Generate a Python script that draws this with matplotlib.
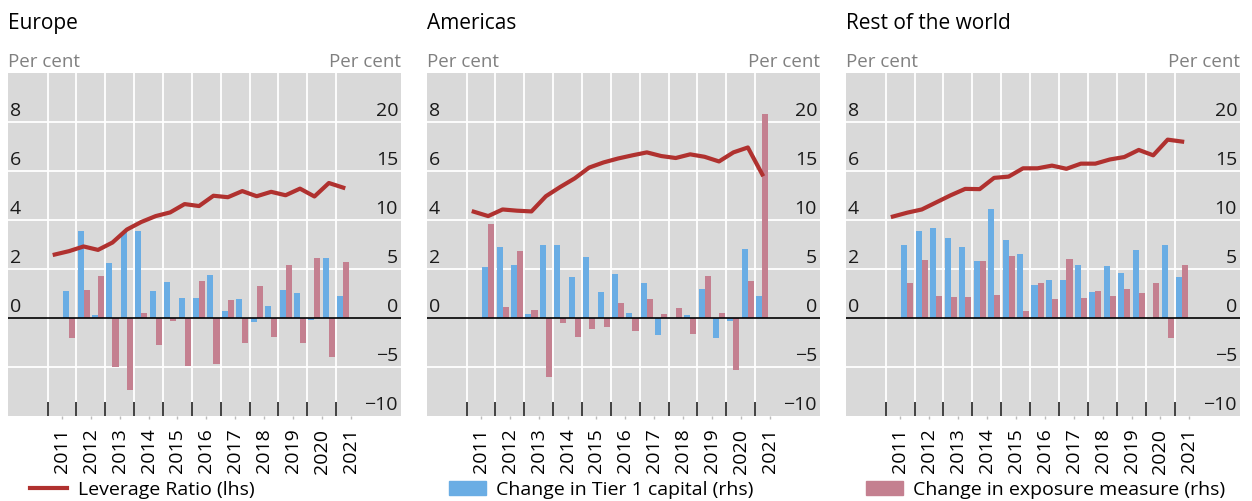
import matplotlib
matplotlib.use('Agg')
import matplotlib.pyplot as plt
import matplotlib.transforms as mtransforms
from matplotlib.lines import Line2D
from matplotlib.patches import Patch

plt.rcParams['font.family'] = ['Open Sans', 'DejaVu Sans']

# ---------------- data ----------------
regions = ['Europe', 'Americas', 'Rest of the world']
years = list(range(2011, 2022))
# half-year periods: leverage ratio 2011H1..2021H1, changes 2011H2..2021H1
line_periods = [f'{y}H{h}' for y in range(2011, 2022) for h in (1, 2)][:-1]
bar_periods = line_periods[1:]

leverage_europe = [2.59, 2.73, 2.92, 2.78, 3.08, 3.61, 3.92, 4.16, 4.31, 4.65, 4.57,
                   4.99, 4.93, 5.18, 4.97, 5.15, 5.01, 5.28, 4.96, 5.51, 5.32]
leverage_americas = [4.34, 4.16, 4.43, 4.38, 4.35, 4.97, 5.35, 5.70, 6.14, 6.35, 6.51,
                     6.64, 6.76, 6.61, 6.53, 6.68, 6.58, 6.39, 6.76, 6.96, 5.86]
leverage_row = [4.14, 4.30, 4.43, 4.72, 5.01, 5.27, 5.26, 5.72, 5.77, 6.11, 6.11,
                6.22, 6.09, 6.30, 6.30, 6.47, 6.57, 6.86, 6.64, 7.28, 7.20]

tier1_europe = [2.74, 8.92, 0.30, 5.57, 8.75, 8.92, 2.74, 3.65, 2.03, 2.03,
                4.36, 0.71, 1.93, -0.41, 1.22, 2.84, 2.53, -0.17, 6.08, 2.23]
exposure_europe = [-1.99, 2.84, 4.26, -5.03, -7.36, 0.51, -2.80, -0.27, -4.93, 3.75,
                   -4.66, 1.82, -2.60, 3.24, -1.89, 5.37, -2.60, 6.08, -4.02, 5.68]

tier1_americas = [5.17, 7.20, 5.37, 0.41, 7.40, 7.50, 4.16, 6.18, 2.64, 4.46,
                  0.51, 3.55, -1.69, 0.0, 0.30, 2.94, -2.09, -0.27, 6.99, 2.23]
exposure_americas = [9.63, 1.11, 6.79, 0.81, -6.05, -0.47, -1.89, -1.08, -0.88, 1.52,
                     -1.28, 1.93, 0.41, 1.01, -1.59, 4.26, 0.51, -5.34, 3.75, 20.78]

tier1_row = [7.50, 8.92, 9.22, 8.21, 7.20, 5.78, 11.15, 7.91, 6.49, 3.34,
             3.85, 3.85, 5.37, 2.64, 5.27, 4.56, 6.89, 0.0, 7.50, 4.16]
exposure_row = [3.55, 5.88, 2.23, 2.13, 2.13, 5.78, 2.33, 6.28, 0.71, 3.55,
                1.93, 5.98, 2.03, 2.74, 2.23, 2.94, 2.53, 3.55, -2.09, 5.37]

leverage = [leverage_europe, leverage_americas, leverage_row]
tier1 = [tier1_europe, tier1_americas, tier1_row]
exposure = [exposure_europe, exposure_americas, exposure_row]

rhs_ticks = [20, 15, 10, 5, 0, -5, -10]
lhs_ticks = [8, 6, 4, 2, 0]

# ---------------- style ----------------
GRAY = '#d9d9d9'
BLUE = '#6aade4'
PINK = '#c48090'
RED = '#b0312f'
TXT_GRAY = '#808080'


def period_pos(p):
    return int(p[:4]) + (0.25 if p.endswith('1') else 0.75)


fig = plt.figure(figsize=(12.52, 5.01), dpi=100)
W, H = 1252, 501
panels = [(8, 401), (427, 820), (846, 1240)]
top_px, bot_px = 73, 416

BW = 0.21

for i, (l, r) in enumerate(panels):
    ax = fig.add_axes([l / W, (H - bot_px) / H, (r - l) / W, (bot_px - top_px) / H])
    ax.set_facecolor(GRAY)
    ax.set_xlim(2009.63, 2023.25)
    ax.set_ylim(-10, 25)
    ax2 = ax.twinx()
    ax2.set_ylim(-4, 10)

    xb = [period_pos(p) for p in bar_periods]
    xl = [period_pos(p) for p in line_periods]

    ax.bar([x - BW / 2 for x in xb], tier1[i], BW, color=BLUE, zorder=2)
    ax.bar([x + BW / 2 for x in xb], exposure[i], BW, color=PINK, zorder=2)
    ax.axhline(0, color='black', lw=1.2, zorder=3)
    ax2.plot(xl, leverage[i], color=RED, lw=3, solid_joinstyle='round', zorder=4)

    ax.set_axisbelow(True)
    ax.set_yticks([-5, 5, 10, 15, 20])
    ax.tick_params(axis='y', left=False, labelleft=False)
    ax.grid(axis='y', color='white', lw=1.3)
    ax.set_xticks(years)
    ax.set_xticks([y + 0.5 for y in years], minor=True)
    ax.set_xticklabels([])
    ax.set_xticklabels([str(y) for y in years], minor=True, rotation=90, fontsize=14)
    ax.tick_params(axis='x', which='major', direction='in', length=10, width=1.3,
                   color='#333333', labelbottom=False)
    ax.tick_params(axis='x', which='minor', direction='out', length=2, width=1,
                   color='#bbbbbb', pad=7)
    ax.grid(axis='x', which='major', color='white', lw=1.3)
    ax2.set_yticks([])
    ax2.tick_params(right=False, labelright=False)
    for s in list(ax.spines.values()) + list(ax2.spines.values()):
        s.set_visible(False)

    # axis value labels, placed just above gridlines inside the plot
    tr_r = mtransforms.blended_transform_factory(ax.transAxes, ax.transData) + \
        mtransforms.ScaledTranslation(-0.03, 0.06, fig.dpi_scale_trans)
    for v in rhs_ticks:
        lab = str(v).replace('-', '\u2212')
        ax.text(1, v, lab, transform=tr_r, ha='right', va='baseline', fontsize=14,
                color='#1a1a1a', zorder=5)
    tr_l = mtransforms.blended_transform_factory(ax2.transAxes, ax2.transData) + \
        mtransforms.ScaledTranslation(0.02, 0.06, fig.dpi_scale_trans)
    for v in lhs_ticks:
        ax2.text(0, v, str(v), transform=tr_l, ha='left', va='baseline', fontsize=14,
                 color='#1a1a1a', zorder=5)

    # units and title
    tr_u = ax.transAxes + mtransforms.ScaledTranslation(0, 0.06, fig.dpi_scale_trans)
    ax.text(0, 1, 'Per cent', transform=tr_u, ha='left', va='baseline', fontsize=13.5,
            color=TXT_GRAY)
    ax.text(1, 1, 'Per cent', transform=tr_u, ha='right', va='baseline', fontsize=13.5,
            color=TXT_GRAY)
    tr_t = ax.transAxes + mtransforms.ScaledTranslation(0, 0.44, fig.dpi_scale_trans)
    ax.text(0, 1, regions[i], transform=tr_t, ha='left', va='baseline', fontsize=15,
            color='black')

# legend
leg_y = (H - 490) / H
common = dict(loc='center left', frameon=False, fontsize=14, borderpad=0,
              borderaxespad=0, handlelength=1.9, handleheight=0.7)
fig.legend(handles=[Line2D([], [], color=RED, lw=3)], labels=['Leverage Ratio (lhs)'],
           bbox_to_anchor=(30 / W, leg_y), handletextpad=0.55, **common)
fig.legend(handles=[Patch(color=BLUE)], labels=['Change in Tier 1 capital (rhs)'],
           bbox_to_anchor=(449 / W, leg_y), handletextpad=0.5, **common)
fig.legend(handles=[Patch(color=PINK)], labels=['Change in exposure measure (rhs)'],
           bbox_to_anchor=(866 / W, leg_y), handletextpad=0.5, **common)

fig.savefig('out.png', dpi=100)
